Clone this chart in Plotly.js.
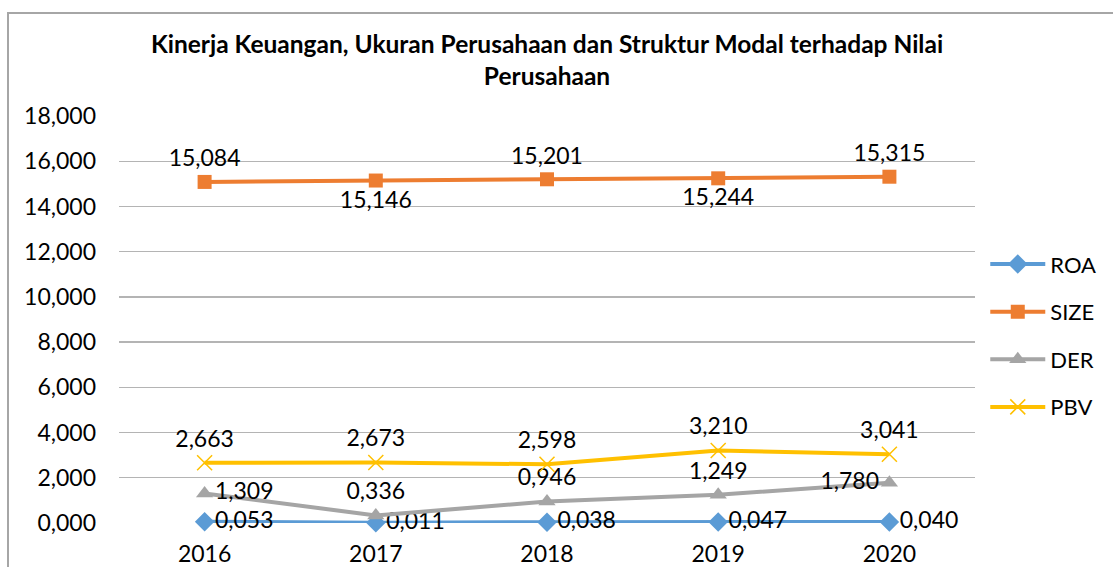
<!DOCTYPE html>
<html>
<head>
<meta charset="utf-8">
<script src="https://cdn.plot.ly/plotly-3.0.1.min.js"></script>
<style>
  html, body { margin: 0; padding: 0; width: 1113px; height: 567px; overflow: hidden; background: #fff; }
  #frame { position: absolute; left: 7px; top: 12px; width: 1200px; height: 700px;
           border-left: 2px solid #A6A6A6; border-top: 2px solid #A6A6A6; }
  #chart { position: absolute; left: 8px; top: 13px; width: 1105px; height: 590px; }
</style>
</head>
<body>
<div id="frame"></div>
<div id="chart"></div>
<script>
const years = ["2016", "2017", "2018", "2019", "2020"];
const roa  = [0.053, 0.011, 0.038, 0.047, 0.040];
const size = [15.084, 15.146, 15.201, 15.244, 15.315];
const der  = [1.309, 0.336, 0.946, 1.249, 1.780];
const pbv  = [2.663, 2.673, 2.598, 3.210, 3.041];
const yTicks = [0, 2, 4, 6, 8, 10, 12, 14, 16, 18];

const FONT = "Lato, 'Open Sans', sans-serif";
const labelFont = {family: FONT, size: 23, color: "#000"};

function series(name, y, color, symbol, pos, msize, open) {
  return {
    type: "scatter", mode: "lines+markers+text", name: name, legendgroup: name,
    x: years, y: y,
    line: {color: color, width: 4},
    marker: open ? {symbol: symbol, size: msize, color: color, line: {color: color, width: 1.5}}
                 : {symbol: symbol, size: msize, color: color},
    texttemplate: "%{y:.3f}", textposition: pos, textfont: labelFont,
    cliponaxis: false, hoverinfo: "skip"
  };
}

const data = [
  series("ROA", roa, "#5B9BD5", "diamond", ["middle right","middle right","middle right","middle right","middle right"], 15),
  series("SIZE", size, "#ED7D31", "square", ["top center","bottom center","top center","bottom center","top center"], 14),
  series("DER", der, "#A5A5A5", "triangle-up", ["middle right","top center","top center","top center","middle left"], 15),
  series("PBV", pbv, "#FFC000", "x-thin-open", ["top center","top center","top center","top center","top center"], 15, true)
];

const layout = {
  width: 1105, height: 590,
  margin: {l: 111, r: 135, t: 103, b: 80},
  paper_bgcolor: "rgba(0,0,0,0)", plot_bgcolor: "rgba(0,0,0,0)",
  separators: ",.",
  font: {family: FONT, color: "#000"},
  title: {
    text: "<b>Kinerja Keuangan, Ukuran Perusahaan dan Struktur Modal terhadap Nilai<br>Perusahaan</b>",
    font: {family: FONT, size: 24.5, color: "#000"},
    x: 0.5, xref: "paper", y: 1 - 40/590, yref: "container", yanchor: "top"
  },
  xaxis: {
    type: "category", range: [-0.5, 4.5], showgrid: false, zeroline: false,
    showline: false, ticks: "", ticklabelstandoff: 15,
    tickfont: {family: FONT, size: 23, color: "#000"}
  },
  yaxis: {
    range: [0, 18], tickvals: yTicks, tickformat: ".3f",
    showgrid: true, gridcolor: "#B4B4B4", gridwidth: 1.3, zeroline: false, showline: false,
    ticks: "", ticklabelstandoff: 22,
    tickfont: {family: FONT, size: 23, color: "#000"}
  },
  showlegend: true,
  legend: {
    x: 1.012, xanchor: "left", y: 0.46, yanchor: "middle",
    font: {family: FONT, size: 22, color: "#000"},
    tracegroupgap: 16, itemwidth: 55, bgcolor: "rgba(0,0,0,0)"
  }
};

Plotly.newPlot("chart", data, layout, {displayModeBar: false, staticPlot: true});
</script>
</body>
</html>
